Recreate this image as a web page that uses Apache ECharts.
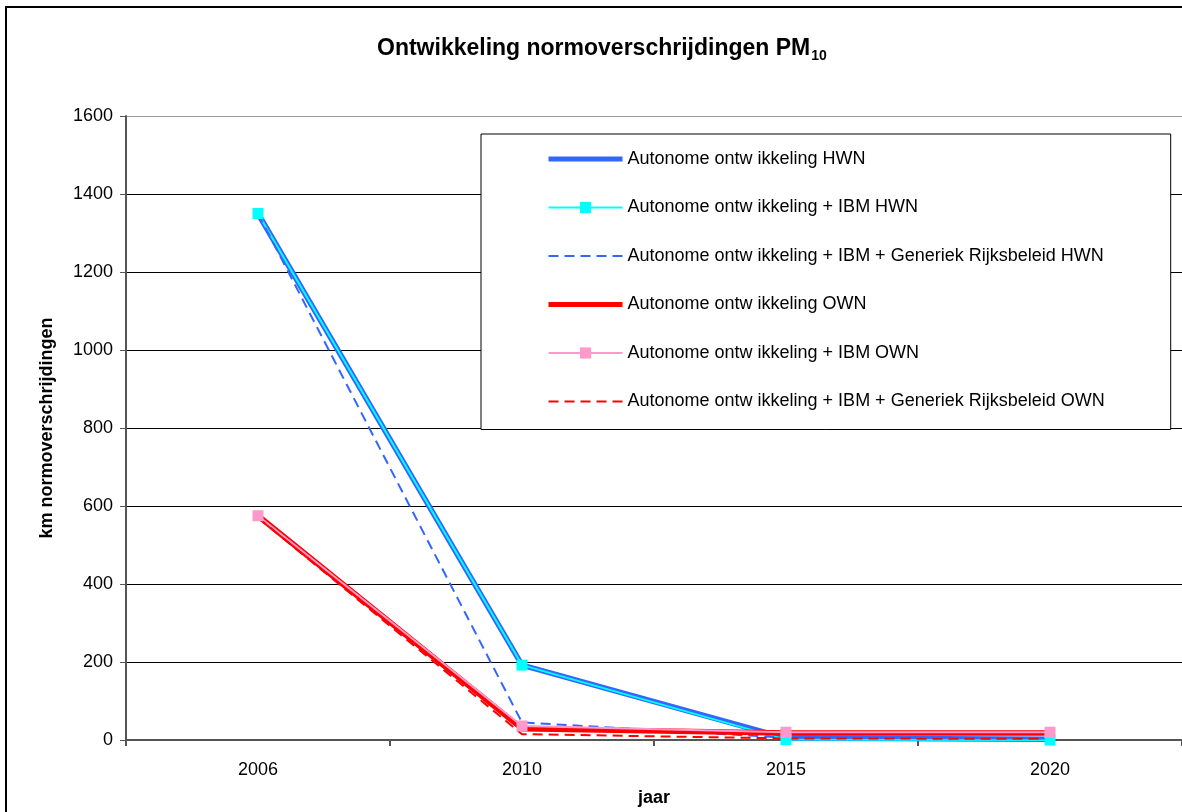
<!DOCTYPE html>
<html>
<head>
<meta charset="utf-8">
<script src="https://cdn.jsdelivr.net/npm/echarts@6/dist/echarts.min.js"></script>
<style>
  html, body { margin: 0; padding: 0; background: #fff; }
  #chart { width: 1182px; height: 812px; }
</style>
</head>
<body>
<div id="chart"></div>
<script>
// Jaren (categorieën op de x-as)
const years = ['2006', '2010', '2015', '2020'];

// km normoverschrijdingen per scenario
const autoHWN    = [1350, 192, 5, 2];
const ibmHWN     = [1350, 192, 1, 0];
const genHWN     = [1350, 45, 6, 4];
const autoOWN    = [575, 29, 18, 18];
const ibmOWN     = [575, 36, 20, 20];
const genOWN     = [570, 15, 4, 3];

const seriesNames = [
  'Autonome ontw ikkeling HWN',
  'Autonome ontw ikkeling + IBM HWN',
  'Autonome ontw ikkeling + IBM + Generiek Rijksbeleid HWN',
  'Autonome ontw ikkeling OWN',
  'Autonome ontw ikkeling + IBM OWN',
  'Autonome ontw ikkeling + IBM + Generiek Rijksbeleid OWN'
];

const yTicks = { min: 0, max: 1600, interval: 200 };

const FONT = "'Liberation Sans', Arial, sans-serif";
const DASH = [10, 6];

const chart = echarts.init(document.getElementById('chart'), null, { renderer: 'canvas' });

function lineSeries(name, data, color, width, opts) {
  return Object.assign({
    name: name,
    type: 'line',
    data: data,
    symbol: 'none',
    showSymbol: false,
    animation: false,
    lineStyle: { color: color, width: width, type: 'solid' },
    itemStyle: { color: color },
    emphasis: { disabled: true }
  }, opts || {});
}

const splitColors = [];
for (let v = yTicks.min; v <= yTicks.max; v += yTicks.interval) {
  splitColors.push(v === yTicks.max ? '#9a9a9a' : '#000000');
}

// legend entries: hide the marker for series drawn without symbols
const legendData = [
  { name: seriesNames[0], itemStyle: { opacity: 0 }, lineStyle: { width: 5 } },
  { name: seriesNames[1] },
  { name: seriesNames[2], itemStyle: { opacity: 0 }, lineStyle: { width: 2 } },
  { name: seriesNames[3], itemStyle: { opacity: 0 }, lineStyle: { width: 5 } },
  { name: seriesNames[4] },
  { name: seriesNames[5], itemStyle: { opacity: 0 }, lineStyle: { width: 2 } }
];

chart.setOption({
  backgroundColor: '#ffffff',
  animation: false,
  title: {
    text: '{a|Ontwikkeling normoverschrijdingen PM}{b|10}',
    left: 372,
    top: 30,
    textStyle: {
      rich: {
        a: { fontFamily: FONT, fontWeight: 'bold', fontSize: 23, color: '#000', lineHeight: 28 },
        b: { fontFamily: FONT, fontWeight: 'bold', fontSize: 14, color: '#000', verticalAlign: 'bottom', lineHeight: 14, padding: [0, 0, 0, 1] }
      }
    }
  },
  graphic: [{
    type: 'rect',
    silent: true,
    z: 100,
    shape: { x: 6, y: 7, width: 1220, height: 840 },
    style: { fill: null, stroke: '#000', lineWidth: 2 }
  }],
  legend: {
    orient: 'vertical',
    left: 481,
    top: 134,
    padding: [16, 66, 19, 65],
    itemGap: 30.5,
    itemWidth: 74,
    itemHeight: 14,
    backgroundColor: '#ffffff',
    borderColor: '#000000',
    borderWidth: 1,
    data: legendData,
    textStyle: { fontFamily: FONT, fontSize: 18, color: '#000' },
    selectedMode: false
  },
  grid: {
    left: 126,
    top: 116,
    width: 1064,
    bottom: 72,
    containLabel: false
  },
  xAxis: {
    type: 'category',
    data: years,
    boundaryGap: true,
    name: 'jaar',
    nameLocation: 'middle',
    nameGap: 49,
    nameTextStyle: { fontFamily: FONT, fontWeight: 'bold', fontSize: 18, color: '#000' },
    axisLine: { show: true, lineStyle: { color: '#555', width: 2 } },
    axisTick: { show: true, length: 6, lineStyle: { color: '#555', width: 2 } },
    axisLabel: { fontFamily: FONT, fontSize: 18, color: '#000', margin: 21 },
    splitLine: { show: false }
  },
  yAxis: {
    type: 'value',
    min: yTicks.min,
    max: yTicks.max,
    interval: yTicks.interval,
    name: 'km normoverschrijdingen',
    nameLocation: 'middle',
    nameGap: 70,
    nameTextStyle: { fontFamily: FONT, fontWeight: 'bold', fontSize: 18, color: '#000' },
    axisLine: { show: true, lineStyle: { color: '#555', width: 2 } },
    axisTick: { show: true, length: 6, lineStyle: { color: '#555', width: 1 } },
    axisLabel: {
      fontFamily: FONT, fontSize: 18, color: '#000', margin: 13,
      formatter: function (v) { return String(v); }
    },
    splitLine: { show: true, lineStyle: { color: splitColors, width: 1 } }
  },
  series: [
    lineSeries(seriesNames[0], autoHWN, '#3366FF', 5.5),
    lineSeries(seriesNames[1], ibmHWN, '#00FFFF', 2, {
      symbol: 'rect', symbolSize: 11, showSymbol: true
    }),
    lineSeries(seriesNames[2], genHWN, '#3366FF', 2, {
      lineStyle: { color: '#3366FF', width: 2, type: DASH }
    }),
    lineSeries(seriesNames[3], autoOWN, '#FF0000', 5.5),
    lineSeries(seriesNames[4], ibmOWN, '#FF99CC', 2, {
      symbol: 'rect', symbolSize: 11, showSymbol: true
    }),
    lineSeries(seriesNames[5], genOWN, '#FF0000', 2, {
      lineStyle: { color: '#FF0000', width: 2, type: DASH }
    })
  ]
});
</script>
</body>
</html>
